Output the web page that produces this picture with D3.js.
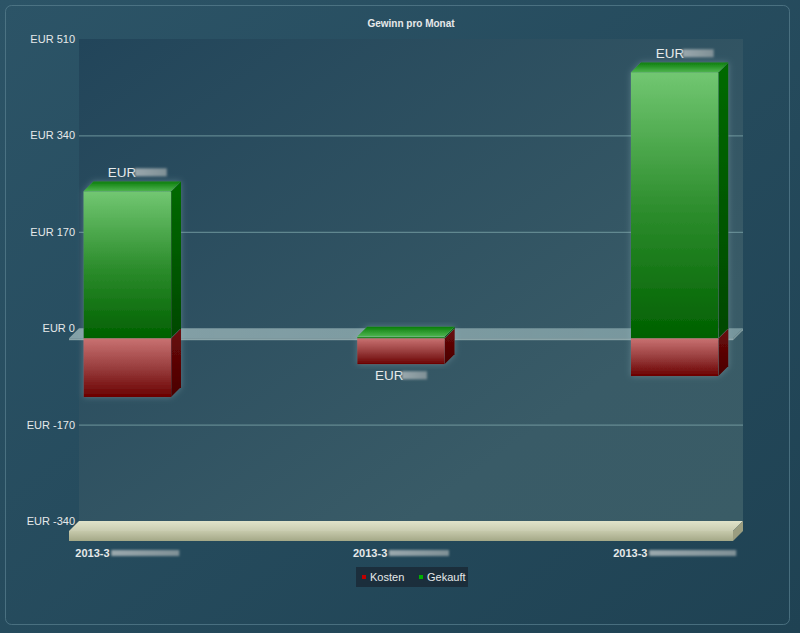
<!DOCTYPE html>
<html>
<head>
<meta charset="utf-8">
<script src="https://cdn.jsdelivr.net/npm/d3@7.9.0/dist/d3.min.js"></script>
<style>
  body { margin: 0; background: #26495a; }
  svg { display: block; font-family: 'Liberation Sans', Arial, sans-serif; }
  .lbl { fill: #e6e9ea; }
</style>
</head>
<body>
<svg id="chart" width="800" height="633"></svg>
<script>
// chart values
const categoryLabels = ['2013-3', '2013-3', '2013-3'];
const gekauft = [259, 3, 469];
const kosten = [-104, -46, -67];
const yTicks = [-340, -170, 0, 170, 340, 510];
const seriesNames = ['Kosten', 'Gekauft'];
// widths of the blurred (hidden) parts of the labels in the original
const hiddenDateWidths = [68, 60, 87];
const hiddenValueWidths = [32, 25, 31];

const svg = d3.select('#chart');
const width = 800;
const height = 633;
const depth = 10; // 3D offset, back plane is up/right of front plane

const plot = { left: 79, right: 743, top: 39, bottom: 521 };

const defs = svg.append('defs');

function linGrad(id, stops, x2 = 0, y2 = 1) {
  const g = defs.append('linearGradient').attr('id', id)
    .attr('x1', 0).attr('y1', 0).attr('x2', x2).attr('y2', y2);
  stops.forEach(([o, c, op]) => g.append('stop').attr('offset', o)
    .attr('stop-color', c).attr('stop-opacity', op ?? 1));
}

linGrad('bg', [[0, '#2c5467'], [1, '#1f4253']], 1, 1);
linGrad('plotbg', [[0, '#22455a'], [0.75, '#395b67'], [1, '#3a5c66']], 1, 1);
linGrad('greenFront', [[0, '#72c772'], [0.5, '#2f8f2f'], [1, '#006000']]);
linGrad('greenSide', [[0, '#006a00'], [1, '#004800']]);
linGrad('greenTop', [[0, '#0a7d0a'], [1, '#4fb44f']]);
linGrad('redFront', [[0, '#c97272'], [0.5, '#993e3e'], [1, '#6a0000']]);
linGrad('redSide', [[0, '#6a0a0a'], [1, '#4a0000']]);
linGrad('floorTop', [[0, '#e0e3ca'], [1, '#c9ccb0']]);
linGrad('floorFront', [[0, '#c6c9ab'], [1, '#a4a887']]);
linGrad('zeroTop', [[0, '#b8d0d0', 0.75], [1, '#9fbdc0', 0.7]], 1, 0);
linGrad('hidden', [[0, '#9aa8ad'], [1, '#7f9096']], 1, 0);

defs.append('filter').attr('id', 'blur')
  .attr('x', '-20%').attr('y', '-60%').attr('width', '140%').attr('height', '220%')
  .append('feGaussianBlur').attr('stdDeviation', 1.3);

const glow = defs.append('filter').attr('id', 'glow')
  .attr('x', '-10%').attr('y', '-10%').attr('width', '120%').attr('height', '120%');
glow.append('feGaussianBlur').attr('in', 'SourceAlpha').attr('stdDeviation', 3).attr('result', 'b');
glow.append('feFlood').attr('flood-color', '#9fc0c8').attr('flood-opacity', 0.35);
glow.append('feComposite').attr('in2', 'b').attr('operator', 'in').attr('result', 'g');
const gm = glow.append('feMerge');
gm.append('feMergeNode').attr('in', 'g');
gm.append('feMergeNode').attr('in', 'SourceGraphic');

// background and panel
svg.append('rect').attr('width', width).attr('height', height).attr('fill', 'url(#bg)');
svg.append('rect').attr('x', 5.5).attr('y', 5.5).attr('width', 784).attr('height', 619)
  .attr('rx', 6).attr('fill', 'none').attr('stroke', '#5a8090').attr('stroke-opacity', 0.7);

// back wall
svg.append('rect')
  .attr('x', plot.left).attr('y', plot.top)
  .attr('width', plot.right - plot.left).attr('height', plot.bottom - plot.top)
  .attr('fill', 'url(#plotbg)');

// scales (y for back plane, x for front plane)
const y = d3.scaleLinear().domain([-340, 510]).range([plot.bottom, plot.top]);
const x = d3.scaleBand()
  .domain(categoryLabels.map((_, i) => i))
  .range([plot.left - depth, plot.right - depth])
  .paddingInner(0.68)
  .paddingOuter(0.053);

// gridlines
svg.append('g')
  .attr('transform', `translate(${plot.left},0)`)
  .call(d3.axisLeft(y).tickValues(yTicks.filter((d) => d > -340 && d < 510 && d !== 0))
    .tickFormat('').tickSize(-(plot.right - plot.left)))
  .call((g) => g.select('.domain').remove())
  .call((g) => g.selectAll('line').attr('stroke', '#7ea6ab').attr('stroke-opacity', 0.8));

// y axis labels
svg.append('g')
  .attr('transform', `translate(${plot.left - 4},0)`)
  .call(d3.axisLeft(y).tickValues(yTicks).tickSize(0).tickPadding(0)
    .tickFormat((d) => 'EUR ' + d))
  .call((g) => g.select('.domain').remove())
  .call((g) => g.selectAll('text').attr('class', 'lbl').attr('font-size', 11)
    .attr('font-family', null));

// 3D slab helper
function slab(g, x0, x1, yTop, thick, fills) {
  g.append('polygon')
    .attr('points', [[x0, yTop], [x0 + depth, yTop - depth], [x1 + depth, yTop - depth], [x1, yTop]].join(' '))
    .attr('fill', fills.top);
  g.append('rect').attr('x', x0).attr('y', yTop).attr('width', x1 - x0).attr('height', thick)
    .attr('fill', fills.front);
  g.append('polygon')
    .attr('points', [[x1, yTop], [x1 + depth, yTop - depth], [x1 + depth, yTop - depth + thick], [x1, yTop + thick]].join(' '))
    .attr('fill', fills.side);
}

// floor
const x0Front = plot.left - depth;
const x1Front = plot.right - depth;
slab(svg.append('g'), x0Front, x1Front, y(-340) + depth, 10,
  { top: 'url(#floorTop)', front: 'url(#floorFront)', side: '#9a9d80' });

// zero plane
slab(svg.append('g').attr('opacity', 0.85), x0Front, x1Front, y(0) + depth, 2,
  { top: 'url(#zeroTop)', front: '#9cb4b6', side: '#8aa4a6' });

// bars
const bars = svg.append('g');
categoryLabels.forEach((_, i) => {
  const bx0 = x(i);
  const bx1 = x(i) + x.bandwidth();
  const g = bars.append('g').attr('filter', 'url(#glow)');

  // Kosten (negative)
  const rTop = y(0) + depth;
  const rBot = y(kosten[i]) + depth;
  g.append('rect').attr('x', bx0).attr('y', rTop).attr('width', bx1 - bx0).attr('height', rBot - rTop)
    .attr('fill', 'url(#redFront)');
  g.append('polygon')
    .attr('points', [[bx1, rTop], [bx1 + depth, rTop - depth], [bx1 + depth, rBot - depth], [bx1, rBot]].join(' '))
    .attr('fill', 'url(#redSide)');

  // Gekauft (positive)
  const gTop = y(gekauft[i]) + depth;
  const gBot = y(0) + depth;
  g.append('rect').attr('x', bx0).attr('y', gTop).attr('width', bx1 - bx0).attr('height', gBot - gTop)
    .attr('fill', 'url(#greenFront)');
  g.append('polygon')
    .attr('points', [[bx1, gTop], [bx1 + depth, gTop - depth], [bx1 + depth, gBot - depth], [bx1, gBot]].join(' '))
    .attr('fill', 'url(#greenSide)');
  g.append('polygon')
    .attr('points', [[bx0, gTop], [bx0 + depth, gTop - depth], [bx1 + depth, gTop - depth], [bx1, gTop]].join(' '))
    .attr('fill', 'url(#greenTop)');

  // value label (net), above when positive, below when negative
  const net = gekauft[i] + kosten[i];
  const cx = (bx0 + bx1) / 2 + (net >= 0 ? depth : 0);
  const ly = net >= 0 ? y(gekauft[i]) - 4 : y(kosten[i]) + depth + 16;
  const hw = hiddenValueWidths[i];
  const lg = svg.append('g').attr('transform', `translate(${cx},${ly})`);
  const tw = 27;
  const start = -(tw + hw) / 2;
  lg.append('text').attr('class', 'lbl').attr('x', start).attr('font-size', 13.5).attr('fill', '#f4f6f6')
    .text('EUR');
  lg.append('rect').attr('x', start + tw).attr('y', -9).attr('width', hw).attr('height', 8)
    .attr('fill', 'url(#hidden)').attr('filter', 'url(#blur)');
});

// x labels
categoryLabels.forEach((label, i) => {
  const cx = x(i) + x.bandwidth() / 2;
  const hw = hiddenDateWidths[i];
  const tw = 36;
  const start = cx - (tw + hw) / 2;
  const g = svg.append('g').attr('transform', `translate(${start},557)`);
  g.append('text').attr('class', 'lbl').attr('font-size', 11).style('font-weight', 600).text(label);
  g.append('rect').attr('x', tw).attr('y', -7).attr('width', hw).attr('height', 6)
    .attr('fill', 'url(#hidden)').attr('filter', 'url(#blur)');
});

// title
svg.append('text')
  .attr('x', (plot.left + plot.right) / 2).attr('y', 27)
  .attr('text-anchor', 'middle').attr('class', 'lbl')
  .attr('font-weight', 'bold').attr('font-size', 10)
  .text('Gewinn pro Monat');

// legend
const legendColors = ['#c00000', '#00b000'];
const legend = svg.append('g').attr('transform', 'translate(356,567)');
legend.append('rect').attr('width', 112).attr('height', 20).attr('fill', '#1b2b39').attr('opacity', 0.9);
const legendX = [6, 63];
seriesNames.forEach((name, i) => {
  legend.append('rect').attr('x', legendX[i]).attr('y', 8).attr('width', 4).attr('height', 4)
    .attr('fill', legendColors[i]);
  legend.append('text').attr('class', 'lbl').attr('x', legendX[i] + 8).attr('y', 14)
    .attr('font-size', 11).text(name);
});
</script>
</body>
</html>
